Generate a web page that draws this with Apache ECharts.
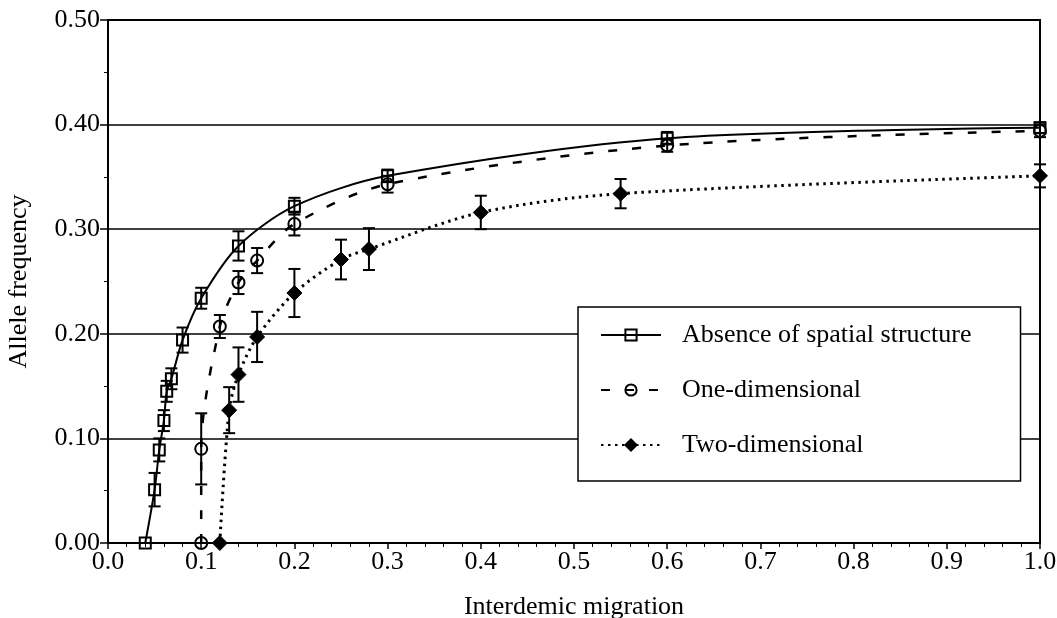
<!DOCTYPE html>
<html>
<head>
<meta charset="utf-8">
<script src="https://cdn.jsdelivr.net/npm/echarts@6/dist/echarts.min.js"></script>
<style>
  html, body { margin: 0; padding: 0; background: #fff; }
  #chart { width: 1057px; height: 618px; }
</style>
</head>
<body>
<div id="chart"></div>
<script>
// Allele frequency vs interdemic migration, mean ± error per treatment
const seriesNames = ['Absence of spatial structure', 'One-dimensional', 'Two-dimensional'];

const absenceX   = [0.04, 0.05, 0.055, 0.06, 0.063, 0.068, 0.08, 0.10, 0.14, 0.20, 0.30, 0.60, 1.00];
const absenceY   = [0.000, 0.051, 0.089, 0.117, 0.145, 0.157, 0.194, 0.234, 0.284, 0.322, 0.351, 0.387, 0.397];
const absenceErr = [0, 0.016, 0.011, 0.010, 0.010, 0.010, 0.012, 0.010, 0.014, 0.008, 0.006, 0.006, 0.005];

const oneDimX   = [0.10, 0.10, 0.12, 0.14, 0.16, 0.20, 0.30, 0.60, 1.00];
const oneDimY   = [0.000, 0.090, 0.207, 0.249, 0.270, 0.305, 0.343, 0.380, 0.394];
const oneDimErr = [0, 0.034, 0.011, 0.011, 0.012, 0.011, 0.008, 0.006, 0.006];

const twoDimX   = [0.12, 0.13, 0.14, 0.16, 0.20, 0.25, 0.28, 0.40, 0.55, 1.00];
const twoDimY   = [0.000, 0.127, 0.161, 0.197, 0.239, 0.271, 0.281, 0.316, 0.334, 0.351];
const twoDimErr = [0, 0.022, 0.026, 0.024, 0.023, 0.019, 0.020, 0.016, 0.014, 0.011];

const xTicks = ['0.0', '0.1', '0.2', '0.3', '0.4', '0.5', '0.6', '0.7', '0.8', '0.9', '1.0'];
const yTicks = ['0.00', '0.10', '0.20', '0.30', '0.40', '0.50'];

const FONT = '"Liberation Serif", "DejaVu Serif", serif';
const FS = 26;

function points(xs, ys) { return xs.map((x, i) => [x, ys[i]]); }
function bars(xs, ys, es) {
  return xs.map((x, i) => [x, ys[i] - es[i], ys[i] + es[i]]).filter((d, i) => es[i] > 0);
}

function errorBarSeries(data, z) {
  return {
    type: 'custom',
    data: data,
    z: z,
    silent: true,
    renderItem: function (params, api) {
      const x = api.value(0);
      const lo = api.coord([x, api.value(1)]);
      const hi = api.coord([x, api.value(2)]);
      const hw = 6;
      const style = { stroke: '#000', lineWidth: 2 };
      return {
        type: 'group',
        children: [
          { type: 'line', shape: { x1: lo[0], y1: lo[1], x2: hi[0], y2: hi[1] }, style: style },
          { type: 'line', shape: { x1: hi[0] - hw, y1: hi[1], x2: hi[0] + hw, y2: hi[1] }, style: style },
          { type: 'line', shape: { x1: lo[0] - hw, y1: lo[1], x2: lo[0] + hw, y2: lo[1] }, style: style }
        ]
      };
    }
  };
}

const chart = echarts.init(document.getElementById('chart'), null, { renderer: 'canvas' });

chart.setOption({
  animation: false,
  backgroundColor: '#fff',
  textStyle: { fontFamily: FONT, color: '#000' },
  grid: {
    left: 108, right: 17, top: 20, bottom: 75,
    containLabel: false,
    outerBoundsMode: 'none',
    show: true, borderColor: '#000', borderWidth: 2
  },
  legend: {
    data: seriesNames,
    orient: 'vertical',
    left: 578,
    top: 307,
    itemWidth: 60,
    itemHeight: 14,
    itemGap: 29,
    padding: [15, 49, 23, 22],
    backgroundColor: '#fff',
    borderColor: '#000',
    borderWidth: 1.5,
    textStyle: { fontFamily: FONT, fontSize: FS, color: '#000', padding: [0, 0, 0, 16] },
    selectedMode: false
  },
  xAxis: {
    type: 'value',
    min: 0,
    max: 1,
    interval: 0.1,
    name: 'Interdemic migration',
    nameLocation: 'middle',
    nameGap: 51,
    nameTextStyle: { fontFamily: FONT, fontSize: FS, color: '#000' },
    axisLine: { lineStyle: { color: '#000', width: 2 } },
    axisTick: { show: true, length: 6, lineStyle: { color: '#000', width: 1.5 } },
    minorTick: { show: true, splitNumber: 5, length: 4, lineStyle: { color: '#000', width: 1 } },
    axisLabel: {
      fontFamily: FONT, fontSize: FS, color: '#000', margin: 6,
      formatter: function (v) { return xTicks[Math.round(v * 10)]; }
    },
    splitLine: { show: false }
  },
  yAxis: {
    type: 'value',
    min: 0,
    max: 0.5,
    interval: 0.1,
    name: 'Allele frequency',
    nameLocation: 'middle',
    nameGap: 76,
    nameRotate: 90,
    nameTextStyle: { fontFamily: FONT, fontSize: FS, color: '#000' },
    axisLine: { lineStyle: { color: '#000', width: 2 } },
    axisTick: { show: true, length: 8, lineStyle: { color: '#000', width: 1.5 } },
    minorTick: { show: true, splitNumber: 2, length: 4, lineStyle: { color: '#000', width: 1 } },
    axisLabel: {
      fontFamily: FONT, fontSize: FS, color: '#000', margin: 8,
      formatter: function (v) { return yTicks[Math.round(v * 10)]; }
    },
    splitLine: { show: true, lineStyle: { color: '#000', width: 1.5 } }
  },
  series: [
    errorBarSeries(bars(absenceX, absenceY, absenceErr), 3),
    errorBarSeries(bars(oneDimX, oneDimY, oneDimErr), 3),
    errorBarSeries(bars(twoDimX, twoDimY, twoDimErr), 3),
    {
      name: seriesNames[0],
      type: 'line',
      data: points(absenceX, absenceY),
      smooth: 0.3,
      symbol: 'rect',
      symbolSize: 11,
      z: 4,
      lineStyle: { color: '#000', width: 2, type: 'solid' },
      itemStyle: { color: 'rgba(255,255,255,0)', borderColor: '#000', borderWidth: 2 }
    },
    {
      name: seriesNames[1],
      type: 'line',
      data: points(oneDimX, oneDimY),
      smooth: 0.3,
      symbol: 'circle',
      symbolSize: 12,
      z: 4,
      lineStyle: { color: '#000', width: 2.5, type: [9, 15] },
      itemStyle: { color: 'rgba(255,255,255,0)', borderColor: '#000', borderWidth: 2 }
    },
    {
      name: seriesNames[2],
      type: 'line',
      data: points(twoDimX, twoDimY),
      smooth: 0.3,
      symbol: 'diamond',
      symbolSize: 15,
      z: 4,
      lineStyle: { color: '#000', width: 3, type: [2.5, 4.5] },
      itemStyle: { color: '#000', borderColor: '#000', borderWidth: 1 }
    }
  ]
});
</script>
</body>
</html>
